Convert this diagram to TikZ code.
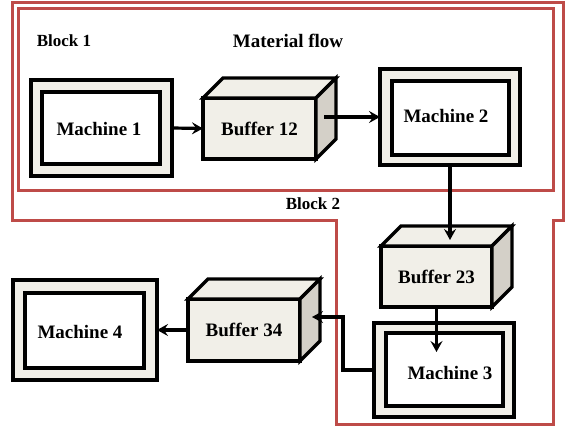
\documentclass[tikz,border=0pt]{standalone}
\usepackage{fontspec}
\setmainfont{Liberation Serif}
\usetikzlibrary{arrows.meta,calc}

\definecolor{boxfill}{HTML}{F1EFE8}
\definecolor{sidefill}{HTML}{D4D0C8}
\definecolor{blockred}{HTML}{BE4B48}

% top and side faces of a buffer box, attached to its front-face node
\newcommand{\bufferfaces}[1]{%
  \draw[edge,fill=boxfill] (#1.north west) -- ++(20,-20) -- ($(#1.north east)+(20,-20)$) -- (#1.north east) -- cycle;
  \draw[edge,fill=sidefill] (#1.north east) -- ++(20,-20) -- ($(#1.south east)+(20,-20)$) -- (#1.south east) -- cycle;}

\begin{document}
\begin{tikzpicture}[x=1pt,y=-1pt,
  edge/.style={draw=black,line width=3.2pt},
  mouter/.style={edge,fill=boxfill,inner sep=0pt,outer sep=0pt},
  minner/.style={edge,fill=white,inner sep=0pt,outer sep=0pt},
  bfront/.style={edge,fill=boxfill,inner sep=0pt,outer sep=0pt,
    font=\fontsize{19}{22}\selectfont\bfseries},
  txt/.style={font=\fontsize{19}{22}\selectfont\bfseries,inner sep=0pt},
  lbl/.style={font=\fontsize{17}{20}\selectfont\bfseries,inner sep=0pt},
  block/.style={draw=blockred,line width=3pt},
  flow/.style={line width=3.2pt,-{Stealth[length=11pt,width=12pt,inset=4pt]}}]
\useasboundingbox (0,0) rectangle (566,427);

% block outlines
\draw[block] (18,9) rectangle (553,191);
\draw[block] (12.5,3) -- (563,3) -- (563,221) -- (553,221) -- (553,425)
  -- (336,425) -- (336,221) -- (12.5,221) -- cycle;

% labels
\node[lbl] (blk1) at (64,41) {Block 1};
\node[txt] (flowlbl) at (288,41) {Material flow};
\node[lbl] (blk2) at (313,204) {Block 2};

% machines
\node[mouter,minimum width=141pt,minimum height=96pt] (m1o) at (101.5,128) {};
\node[minner,minimum width=118pt,minimum height=72pt] (m1) at (101,128) {};
\node[txt] (t1) at (99,129) {Machine 1};

\node[mouter,minimum width=140pt,minimum height=96pt] (m2o) at (450,117) {};
\node[minner,minimum width=117pt,minimum height=74pt] (m2) at (450.5,118) {};
\node[txt] (t2) at (446,116) {Machine 2};

\node[mouter,minimum width=140pt,minimum height=94pt] (m3o) at (444,370) {};
\node[minner,minimum width=117pt,minimum height=73pt] (m3) at (444.5,369.5) {};
\node[txt] (t3) at (450,373) {Machine 3};

\node[mouter,minimum width=144pt,minimum height=100pt] (m4o) at (85,330) {};
\node[minner,minimum width=119pt,minimum height=75pt] (m4) at (84.5,330.5) {};
\node[txt] (t4) at (80,332) {Machine 4};

% buffers
\node[bfront,minimum width=113pt,minimum height=61pt] (b12) at (259.5,128.5) {Buffer 12};
\bufferfaces{b12}
\node[bfront,minimum width=111pt,minimum height=61pt] (b23) at (436.5,276.5) {Buffer 23};
\bufferfaces{b23}
\node[bfront,minimum width=112pt,minimum height=62pt] (b34) at (244,330) {Buffer 34};
\bufferfaces{b34}

% connector end points inside the buffer faces
\coordinate (b12out) at ([xshift=8pt]b12.east);
\coordinate (b23in) at ([yshift=6pt]b23.north);
\coordinate (b34in) at ([xshift=12pt,yshift=13pt]b34.east);
\coordinate (m3bend) at ([xshift=43pt,yshift=13pt]b34.east);

% material flow
\draw[flow] (m1o.east) -- (b12.west);
\draw[flow] (b12out |- m2o.west) -- (m2o.west);
\draw[flow] (m2o.south) -- (m2o.south |- b23in);
\draw[flow] (b23.south) -- ([yshift=-45pt]b23.south);
\draw[flow] (m3o.west) -| (m3bend) -- (b34in);
\draw[flow] (b34.west) -- (m4o.east);
\end{tikzpicture}
\end{document}
